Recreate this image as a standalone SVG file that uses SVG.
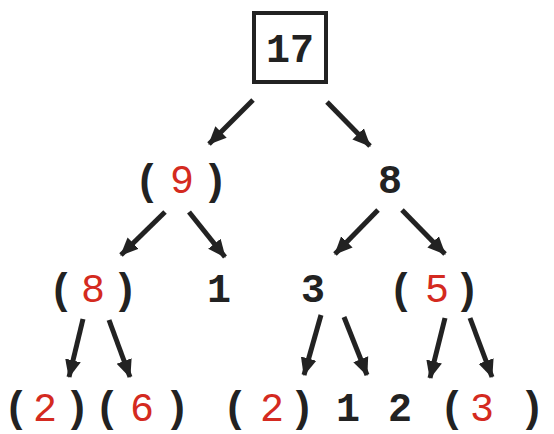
<svg xmlns="http://www.w3.org/2000/svg" width="554" height="434" viewBox="0 0 554 434">
<defs>
<style>
.b{font-family:"Liberation Mono","DejaVu Sans Mono",monospace;font-weight:bold;font-size:40px;fill:#222;text-anchor:middle}
.r{font-family:"Liberation Mono","DejaVu Sans Mono",monospace;font-weight:normal;font-size:40px;fill:#d42a20;text-anchor:middle}
.p{font-family:"Liberation Mono","DejaVu Sans Mono",monospace;font-weight:bold;font-size:42px;fill:#222;text-anchor:middle}
.e{stroke:#222;stroke-width:5;fill:none;marker-end:url(#ah)}
</style>
<marker id="ah" markerUnits="userSpaceOnUse" markerWidth="20" markerHeight="20" viewBox="0 0 20 20" refX="17" refY="10" orient="auto">
<path d="M0,2 L18,10 L0,18 Z" fill="#222"/>
</marker>
</defs>
<g id="connectors">
<line class="e" x1="253" y1="100" x2="209" y2="144"/>
<line class="e" x1="327" y1="102" x2="370" y2="146"/>
<line class="e" x1="165" y1="212" x2="121" y2="255"/>
<line class="e" x1="189" y1="212" x2="225" y2="257"/>
<line class="e" x1="378" y1="210" x2="335" y2="254"/>
<line class="e" x1="402" y1="210" x2="445" y2="254"/>
<line class="e" x1="83" y1="319" x2="69" y2="377"/>
<line class="e" x1="109" y1="320" x2="130" y2="377"/>
<line class="e" x1="321" y1="315" x2="304" y2="375"/>
<line class="e" x1="344" y1="317" x2="367" y2="375"/>
<line class="e" x1="445" y1="318" x2="430" y2="378"/>
<line class="e" x1="470" y1="318" x2="492" y2="377"/>
</g>
<g id="n17">
<rect x="254" y="13" width="72" height="69" fill="none" stroke="#222" stroke-width="4"/>
<text class="b" x="290" y="62">17</text>
</g>
<g id="n9">
<text class="p" x="147" y="194">(</text><text class="r" x="182" y="193">9</text><text class="p" x="215" y="194">)</text>
</g>
<g id="n8top"><text class="b" x="390" y="193">8</text></g>
<g id="n8">
<text class="p" x="61" y="303">(</text><text class="r" x="93" y="302">8</text><text class="p" x="125" y="303">)</text>
</g>
<g id="n1a"><text class="b" x="219" y="302">1</text></g>
<g id="n3"><text class="b" x="313" y="302">3</text></g>
<g id="n5">
<text class="p" x="401" y="303">(</text><text class="r" x="437" y="302">5</text><text class="p" x="467" y="303">)</text>
</g>
<g id="n2a">
<text class="p" x="16" y="421">(</text><text class="r" x="45" y="421">2</text><text class="p" x="77" y="421">)</text>
</g>
<g id="n6">
<text class="p" x="107" y="421">(</text><text class="r" x="142" y="421">6</text><text class="p" x="177" y="421">)</text>
</g>
<g id="n2b">
<text class="p" x="235" y="421">(</text><text class="r" x="272" y="421">2</text><text class="p" x="302" y="421">)</text>
</g>
<g id="n1b"><text class="b" x="348" y="421">1</text></g>
<g id="n2c"><text class="b" x="400" y="421">2</text></g>
<g id="n3b">
<text class="p" x="452" y="421">(</text><text class="r" x="482" y="421">3</text><text class="p" x="532" y="421">)</text>
</g>
</svg>
